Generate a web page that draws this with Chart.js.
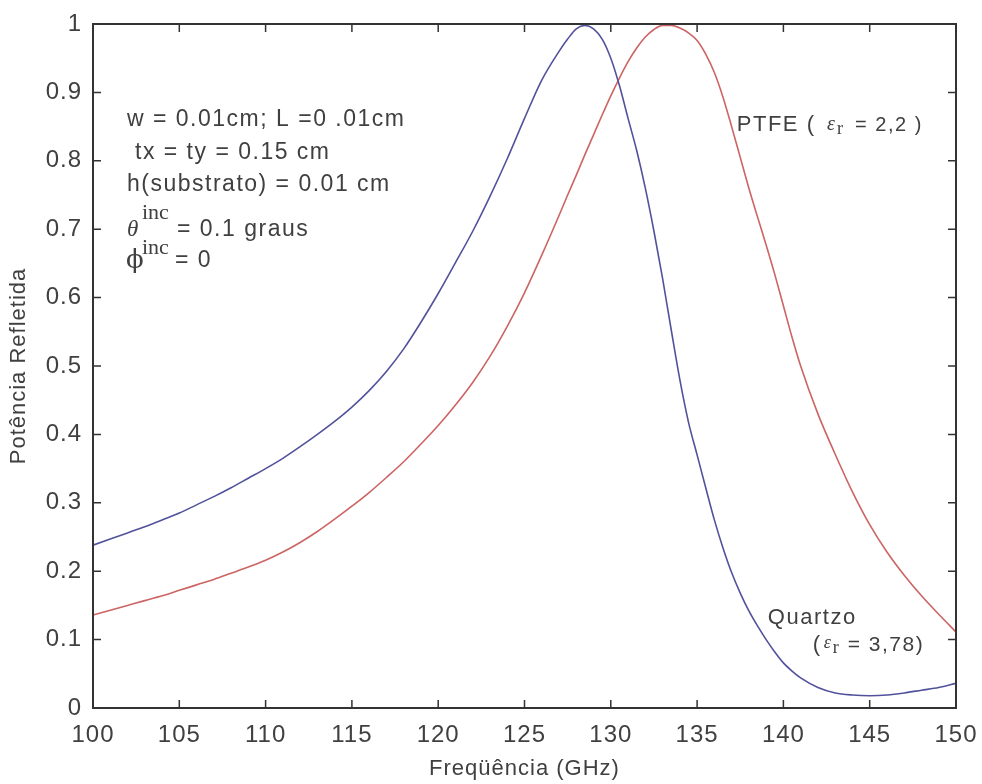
<!DOCTYPE html>
<html>
<head>
<meta charset="utf-8">
<script src="https://cdn.jsdelivr.net/npm/chart.js@4"></script>
<style>
  body { margin: 0; background: #fff; }
  #chart { display: block; }
</style>
</head>
<body>
<canvas id="chart" width="982" height="784"></canvas>
<script>
// Frequency (GHz) and reflected power
const freq = [
  100, 101, 102, 103, 104, 105, 106, 107, 108, 109, 110, 111, 112, 113, 114, 115,
  116, 117, 118, 119, 120, 121, 122, 123, 124, 125, 126, 127, 127.5, 128, 128.5,
  129, 129.5, 130, 130.5, 131, 131.5, 132, 132.5, 133, 133.5, 134, 134.5, 135,
  135.5, 136, 136.5, 137, 137.5, 138, 138.5, 139, 139.5, 140, 140.5, 141, 142,
  143, 144, 145, 146, 147, 148, 149, 150,
];

const quartzo = [
  0.238, 0.247, 0.256, 0.265, 0.275, 0.285, 0.297, 0.309, 0.322, 0.336, 0.350,
  0.365, 0.382, 0.400, 0.419, 0.440, 0.464, 0.492, 0.525, 0.564, 0.606, 0.651,
  0.697, 0.748, 0.803, 0.862, 0.918, 0.960, 0.978, 0.993, 0.998, 0.993, 0.978,
  0.950, 0.910, 0.862, 0.815, 0.760, 0.697, 0.628, 0.553, 0.480, 0.418, 0.370,
  0.322, 0.275, 0.234, 0.198, 0.168, 0.142, 0.120, 0.100, 0.082, 0.066, 0.054,
  0.044, 0.030, 0.022, 0.019, 0.018, 0.019, 0.022, 0.026, 0.030, 0.036,
];

const ptfe = [
  0.136, 0.143, 0.150, 0.157, 0.164, 0.172, 0.180, 0.188, 0.197, 0.206, 0.216,
  0.228, 0.242, 0.258, 0.276, 0.295, 0.315, 0.337, 0.360, 0.386, 0.413, 0.443,
  0.476, 0.514, 0.558, 0.607, 0.662, 0.720, 0.750, 0.779, 0.809, 0.838, 0.867,
  0.895, 0.921, 0.945, 0.965, 0.981, 0.992, 0.998, 0.998, 0.994, 0.987, 0.976,
  0.956, 0.929, 0.893, 0.850, 0.805, 0.760, 0.718, 0.677, 0.634, 0.588, 0.542,
  0.500, 0.430, 0.371, 0.316, 0.268, 0.228, 0.194, 0.164, 0.137, 0.111,
];

const xTicks = [100, 105, 110, 115, 120, 125, 130, 135, 140, 145, 150];
const yTicks = [0, 0.1, 0.2, 0.3, 0.4, 0.5, 0.6, 0.7, 0.8, 0.9, 1];

const textColor = "#404040";
const sans = "'Liberation Sans', Arial, sans-serif";
const serif = "'Liberation Serif', 'DejaVu Serif', serif";

// MATLAB-like wide text spacing for the axis labels
const spacingPlugin = {
  id: "spacing",
  beforeDraw(chart) {
    chart.ctx.letterSpacing = "1px";
  },
};

// Box around the plot with inward tick marks on all four sides
const framePlugin = {
  id: "frame",
  afterDatasetsDraw(chart) {
    const { ctx, chartArea: a, scales } = chart;
    ctx.save();
    ctx.strokeStyle = "#333";
    ctx.lineWidth = 2;
    ctx.strokeRect(a.left, a.top, a.right - a.left, a.bottom - a.top);
    ctx.lineWidth = 1.5;
    ctx.beginPath();
    xTicks.forEach((v) => {
      const px = scales.x.getPixelForValue(v);
      ctx.moveTo(px, a.bottom);
      ctx.lineTo(px, a.bottom - 8);
      ctx.moveTo(px, a.top);
      ctx.lineTo(px, a.top + 8);
    });
    yTicks.forEach((v) => {
      const py = scales.y.getPixelForValue(v);
      ctx.moveTo(a.left, py);
      ctx.lineTo(a.left + 8, py);
      ctx.moveTo(a.right, py);
      ctx.lineTo(a.right - 8, py);
    });
    ctx.stroke();
    ctx.restore();
  },
};

// Parameter block and curve labels
const notesPlugin = {
  id: "notes",
  afterDatasetsDraw(chart) {
    const { ctx, scales } = chart;
    const x0 = scales.x.getPixelForValue(101.97);
    const y0 = scales.y.getPixelForValue(0.86);

    ctx.save();
    ctx.fillStyle = textColor;
    ctx.textBaseline = "middle";
    ctx.textAlign = "left";
    ctx.letterSpacing = "1.5px";

    ctx.font = "23px " + sans;
    ctx.fillText("w = 0.01cm; L =0 .01cm", x0, y0);
    ctx.fillText("tx = ty = 0.15 cm", x0 + 8, y0 + 33);
    ctx.fillText("h(substrato) = 0.01 cm", x0, y0 + 65);

    // theta inc line
    ctx.letterSpacing = "0px";
    ctx.font = "italic 23px " + serif;
    ctx.fillText("θ", x0, y0 + 110);
    ctx.font = "22px " + serif;
    ctx.fillText("inc", x0 + 15, y0 + 93);
    ctx.letterSpacing = "1.5px";
    ctx.font = "23px " + sans;
    ctx.fillText("= 0.1 graus", x0 + 50, y0 + 110);

    // phi inc line
    ctx.letterSpacing = "0px";
    ctx.font = "26px 'DejaVu Serif', serif";
    ctx.fillText("ϕ", x0 - 1, y0 + 141);
    ctx.font = "22px " + serif;
    ctx.fillText("inc", x0 + 15, y0 + 128);
    ctx.letterSpacing = "1.5px";
    ctx.font = "23px " + sans;
    ctx.fillText("= 0", x0 + 48, y0 + 141);

    // PTFE label
    let px = scales.x.getPixelForValue(137.3);
    let py = scales.y.getPixelForValue(0.852);
    ctx.font = "22px " + sans;
    ctx.fillText("PTFE ( ", px, py);
    px += ctx.measureText("PTFE ( ").width + 4;
    ctx.letterSpacing = "0px";
    ctx.font = "italic 20px " + serif;
    ctx.fillText("ε", px, py);
    ctx.font = "18px " + serif;
    ctx.fillText("r", px + 10, py + 4);
    ctx.letterSpacing = "1.5px";
    ctx.font = "20px " + sans;
    ctx.fillText("= 2,2 )", px + 28, py);

    // Quartzo label
    px = scales.x.getPixelForValue(139.1);
    py = scales.y.getPixelForValue(0.131);
    ctx.font = "22px " + sans;
    ctx.fillText("Quartzo", px, py);
    px = scales.x.getPixelForValue(141.7);
    py = scales.y.getPixelForValue(0.092);
    ctx.fillText("(", px, py);
    ctx.letterSpacing = "0px";
    ctx.font = "italic 18px " + serif;
    ctx.fillText("ε", px + 11, py - 2);
    ctx.font = "18px " + serif;
    ctx.fillText("r", px + 20, py + 3);
    ctx.letterSpacing = "1.5px";
    ctx.font = "21px " + sans;
    ctx.fillText("= 3,78)", px + 35, py);
    ctx.restore();
  },
};

const ctx = document.querySelector("#chart").getContext("2d");

new Chart(ctx, {
  type: "line",
  data: {
    datasets: [
      {
        label: "Quartzo",
        data: freq.map((f, i) => ({ x: f, y: quartzo[i] })),
        borderColor: "#52529c",
        borderWidth: 1.6,
        pointRadius: 0,
        cubicInterpolationMode: "monotone",
      },
      {
        label: "PTFE",
        data: freq.map((f, i) => ({ x: f, y: ptfe[i] })),
        borderColor: "#cc6464",
        borderWidth: 1.6,
        pointRadius: 0,
        cubicInterpolationMode: "monotone",
      },
    ],
  },
  options: {
    responsive: false,
    animation: false,
    devicePixelRatio: 1,
    layout: { padding: { top: 24, right: 26, left: 0, bottom: 0 } },
    plugins: {
      legend: { display: false },
      tooltip: { enabled: false },
    },
    scales: {
      x: {
        type: "linear",
        min: 100,
        max: 150,
        afterBuildTicks: (scale) => {
          scale.ticks = xTicks.map((v) => ({ value: v }));
        },
        afterFit: (scale) => {
          scale.height = 76;
          scale.paddingLeft = 0;
          scale.paddingRight = 0;
        },
        grid: { display: false },
        border: { display: false },
        ticks: {
          color: textColor,
          font: { family: sans, size: 24 },
          padding: 5,
          maxRotation: 0,
        },
        title: {
          display: true,
          text: "Freqüência (GHz)",
          color: textColor,
          font: { family: sans, size: 22 },
          padding: { top: 0, bottom: 2 },
        },
      },
      y: {
        min: 0,
        max: 1,
        afterBuildTicks: (scale) => {
          scale.ticks = yTicks.map((v) => ({ value: v }));
        },
        afterFit: (scale) => {
          scale.width = 93;
          scale.paddingTop = 0;
          scale.paddingBottom = 0;
        },
        grid: { display: false },
        border: { display: false },
        ticks: {
          color: textColor,
          font: { family: sans, size: 24 },
          padding: 3,
          callback: (v) => String(+v.toFixed(1)),
        },
        title: {
          display: true,
          text: "Potência Refletida",
          color: textColor,
          font: { family: sans, size: 22 },
          padding: { top: 6, bottom: 0 },
        },
      },
    },
  },
  plugins: [spacingPlugin, framePlugin, notesPlugin],
});
</script>
</body>
</html>
